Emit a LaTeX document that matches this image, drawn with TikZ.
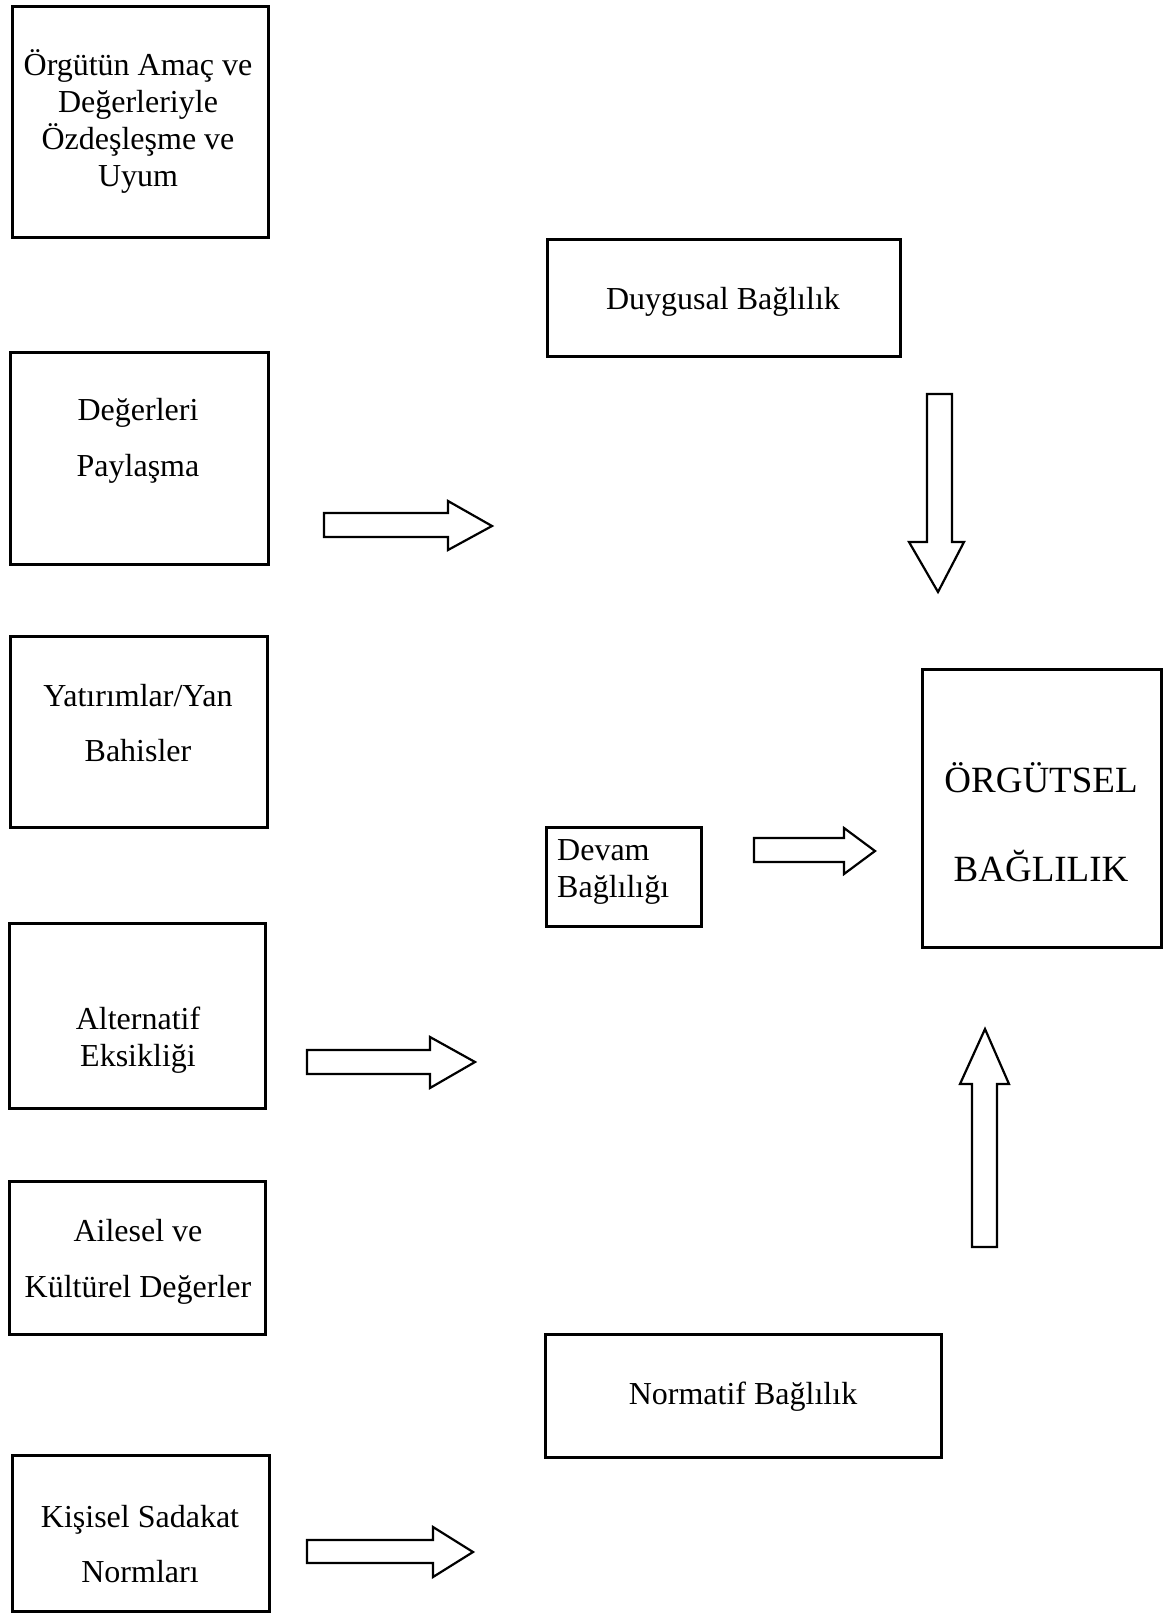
\documentclass[tikz,border=0pt]{standalone}
\usepackage{fontspec}
\setmainfont{Liberation Serif}
\begin{document}
\begin{tikzpicture}[x=1pt,y=-1pt,
  box/.style={draw=black,line width=3pt,inner sep=0pt},
  txt/.style={align=center,inner sep=0pt,font=\fontsize{32}{37}\selectfont},
  wide/.style={align=center,inner sep=0pt,font=\fontsize{32}{55.6}\selectfont},
  blockarrow/.style={draw=black,line width=2.2pt,line join=miter,fill=white}]
\useasboundingbox (0,0) rectangle (1168,1613);
% left boxes
\node[box,minimum width=256pt,minimum height=231pt] (b1) at (140,122.5) {};
\node[txt] (t1) at (138,121) {Örgütün Amaç ve\\Değerleriyle\\Özdeşleşme ve\\Uyum};
\node[box,minimum width=258pt,minimum height=212pt] (b2) at (139,458) {};
\node[wide] (t2) at (138,441) {Değerleri\\Paylaşma};
\node[box,minimum width=257pt,minimum height=191pt] (b3) at (138.5,731.5) {};
\node[wide] (t3) at (138,723) {Yatırımlar/Yan\\Bahisler};
\node[box,minimum width=256pt,minimum height=185pt] (b4) at (137,1015.5) {};
\node[txt] (t4) at (138,1040) {Alternatif\\Eksikliği};
\node[box,minimum width=256pt,minimum height=153pt] (b5) at (137,1257.5) {};
\node[wide] (t5) at (138,1262) {Ailesel ve\\Kültürel Değerler};
\node[box,minimum width=257pt,minimum height=156pt] (b6) at (140.5,1533) {};
\node[wide] (t6) at (140,1544) {Kişisel Sadakat\\Normları};
% middle boxes
\node[box,minimum width=353pt,minimum height=117pt] (d) at (723.5,298) {};
\node[txt] (td) at (723,302) {Duygusal Bağlılık};
\node[box,minimum width=155pt,minimum height=99pt] (c) at (624,877) {};
\node[txt,align=left,anchor=west] (tc) at (557,872) {Devam\\Bağlılığı};
\node[box,minimum width=396pt,minimum height=123pt] (n) at (743.5,1396) {};
\node[txt] (tn) at (743,1397) {Normatif Bağlılık};
% right box
\node[box,minimum width=239pt,minimum height=278pt] (o) at (1041.5,808) {};
\node[align=center,inner sep=0pt,font=\fontsize{37}{89.5}\selectfont] (to) at (1041,822) {ÖRGÜTSEL\\BAĞLILIK};
% block arrows
\draw[blockarrow] (324,513) -- (448,513) -- (448,501) -- (492,526) -- (448,550) -- (448,537) -- (324,537) -- cycle;
\draw[blockarrow] (754,838) -- (844,838) -- (844,828) -- (875,851) -- (844,874) -- (844,862) -- (754,862) -- cycle;
\draw[blockarrow] (307,1050) -- (430,1050) -- (430,1037) -- (475,1062) -- (430,1088) -- (430,1074) -- (307,1074) -- cycle;
\draw[blockarrow] (307,1540) -- (433,1540) -- (433,1527) -- (473,1552) -- (433,1577) -- (433,1563) -- (307,1563) -- cycle;
\draw[blockarrow] (927,394) -- (952,394) -- (952,542) -- (964,542) -- (938,592) -- (909,542) -- (927,542) -- cycle;
\draw[blockarrow] (972,1247) -- (997,1247) -- (997,1084) -- (1009,1084) -- (985,1029) -- (960,1084) -- (972,1084) -- cycle;
\end{tikzpicture}
\end{document}
